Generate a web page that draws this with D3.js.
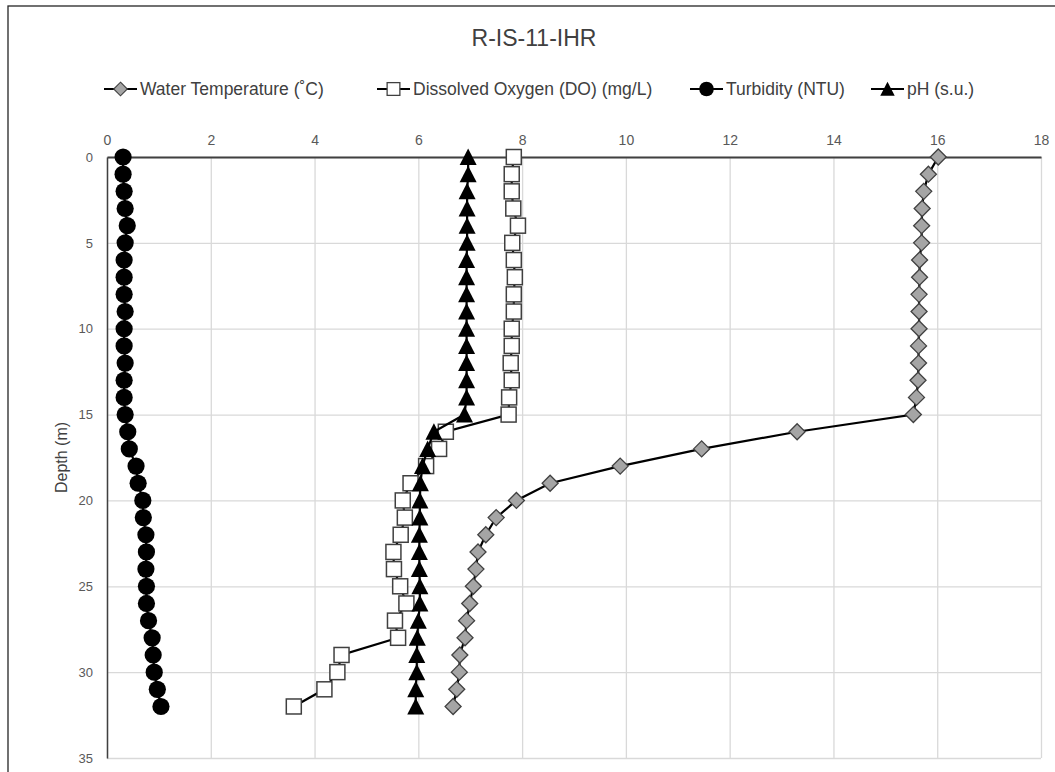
<!DOCTYPE html>
<html lang="en">
<head>
<meta charset="UTF-8">
<title>R-IS-11-IHR</title>
<script src="https://d3js.org/d3.v7.min.js"></script>
<style>
  body { margin: 0; background: #fff; }
  svg { font-family: "Liberation Sans", Arial, sans-serif; }
  .grid line { stroke: #d9d9d9; stroke-width: 1.3; }
  .grid path { display: none; }
  .tick text { fill: #595959; }
</style>
</head>
<body>
<svg id="chart" width="1055" height="772"></svg>
<script>
// depth of each reading (m)
const depths = [0, 1, 2, 3, 4, 5, 6, 7, 8, 9, 10, 11, 12, 13, 14, 15, 16,
  17, 18, 19, 20, 21, 22, 23, 24, 25, 26, 27, 28, 29, 30, 31, 32];

const waterTemp = [16.02, 15.83, 15.74, 15.71, 15.70, 15.70, 15.66, 15.66, 15.65, 15.65, 15.65,
  15.64, 15.64, 15.63, 15.60, 15.54, 13.30, 11.46, 9.89, 8.54, 7.89, 7.50, 7.30, 7.15,
  7.11, 7.06, 6.99, 6.93, 6.90, 6.80, 6.79, 6.74, 6.67];

const dissolvedOxygen = [7.84, 7.80, 7.80, 7.83, 7.92, 7.81, 7.84, 7.86, 7.84, 7.84, 7.80,
  7.80, 7.78, 7.80, 7.75, 7.74, 6.53, 6.40, 6.15, 5.85, 5.70, 5.74, 5.66, 5.52,
  5.53, 5.65, 5.77, 5.55, 5.61, 4.52, 4.44, 4.19, 3.60];

const turbidity = [0.31, 0.31, 0.33, 0.35, 0.39, 0.35, 0.33, 0.33, 0.33, 0.35, 0.33,
  0.33, 0.35, 0.33, 0.33, 0.35, 0.40, 0.43, 0.56, 0.60, 0.69, 0.70, 0.75, 0.76,
  0.75, 0.76, 0.76, 0.80, 0.87, 0.89, 0.91, 0.97, 1.04];

const pH = [6.96, 6.96, 6.94, 6.94, 6.94, 6.94, 6.93, 6.93, 6.93, 6.93, 6.93,
  6.93, 6.93, 6.93, 6.93, 6.89, 6.30, 6.18, 6.08, 6.04, 6.03, 6.03, 6.02, 6.02,
  6.02, 6.03, 6.03, 6.00, 5.98, 5.97, 5.97, 5.95, 5.95];

const xTicks = [0, 2, 4, 6, 8, 10, 12, 14, 16, 18];
const yTicks = [0, 5, 10, 15, 20, 25, 30, 35];

const seriesNames = ["Water Temperature (\u02DAC)", "Dissolved Oxygen (DO) (mg/L)", "Turbidity (NTU)", "pH (s.u.)"];

const series = [
  { name: seriesNames[0], values: waterTemp, marker: "diamond" },
  { name: seriesNames[1], values: dissolvedOxygen, marker: "square" },
  { name: seriesNames[2], values: turbidity, marker: "circle" },
  { name: seriesNames[3], values: pH, marker: "triangle" }
];

const svg = d3.select("#chart");
const margin = { left: 107, top: 157 };
const width = 934, height = 601;

// outer chart frame
svg.append("rect")
  .attr("x", 8).attr("y", 6)
  .attr("width", 1100).attr("height", 800)
  .attr("fill", "#fff")
  .attr("stroke", "#262626")
  .attr("stroke-width", 1.3);

svg.append("text")
  .attr("x", 534).attr("y", 46)
  .attr("text-anchor", "middle")
  .attr("font-size", 23)
  .attr("fill", "#404040")
  .text("R-IS-11-IHR");

const x = d3.scaleLinear().domain([0, 18]).range([0, width]);
const y = d3.scaleLinear().domain([0, 35]).range([0, height]);

const g = svg.append("g").attr("transform", `translate(${margin.left},${margin.top})`);

// gridlines
g.append("g").attr("class", "grid")
  .call(d3.axisTop(x).tickValues(xTicks).tickSize(-height).tickFormat(""));
g.append("g").attr("class", "grid")
  .call(d3.axisLeft(y).tickValues(yTicks).tickSize(-width).tickFormat(""));

// axes
const xAxis = g.append("g")
  .call(d3.axisTop(x).tickValues(xTicks).tickSize(0).tickPadding(12));
xAxis.select(".domain").attr("stroke", "#404040").attr("stroke-width", 1.8);
xAxis.selectAll(".tick text").attr("font-size", 14);

const yAxis = g.append("g")
  .call(d3.axisLeft(y).tickValues(yTicks).tickSize(0).tickPadding(14));
yAxis.select(".domain").attr("stroke", "#404040").attr("stroke-width", 1.5);
yAxis.selectAll(".tick text").attr("font-size", 13);

svg.append("text")
  .attr("transform", `translate(67,${margin.top + height / 2}) rotate(-90)`)
  .attr("text-anchor", "middle")
  .attr("font-size", 16)
  .attr("fill", "#404040")
  .text("Depth (m)");

// marker drawing
function drawMarker(sel, type) {
  if (type === "diamond") {
    sel.append("path").attr("d", "M0,-8L8,0L0,8L-8,0Z")
      .attr("fill", "#a5a5a5").attr("stroke", "#404040").attr("stroke-width", 1.3);
  } else if (type === "square") {
    sel.append("rect").attr("x", -7.5).attr("y", -7.5).attr("width", 15).attr("height", 15)
      .attr("fill", "#fff").attr("stroke", "#404040").attr("stroke-width", 1.5);
  } else if (type === "circle") {
    sel.append("circle").attr("r", 8.6).attr("fill", "#000");
  } else {
    sel.append("path").attr("d", "M0,-8.5L8.5,8L-8.5,8Z").attr("fill", "#000");
  }
}

const line = d3.line()
  .x(d => x(d[0]))
  .y(d => y(d[1]));

series.forEach(s => {
  const pts = s.values.map((v, i) => [v, depths[i]]);
  g.append("path")
    .datum(pts)
    .attr("fill", "none")
    .attr("stroke", "#000")
    .attr("stroke-width", 2.2)
    .attr("d", line);
  g.append("g").selectAll("g")
    .data(pts)
    .join("g")
    .attr("transform", d => `translate(${x(d[0])},${y(d[1])})`)
    .each(function () { drawMarker(d3.select(this), s.marker); });
});

// legend
const legendX = [104, 377, 690, 871];
const legend = svg.append("g").attr("transform", "translate(0,89)");
series.forEach((s, i) => {
  const item = legend.append("g").attr("transform", `translate(${legendX[i]},0)`);
  item.append("line").attr("x1", 0).attr("x2", 33)
    .attr("stroke", "#000").attr("stroke-width", 2.2);
  const m = item.append("g").attr("transform", "translate(16.5,0) scale(0.85)");
  drawMarker(m, s.marker);
  item.append("text")
    .attr("x", 36).attr("y", 6)
    .attr("font-size", 17.5)
    .attr("fill", "#404040")
    .text(s.name);
});
</script>
</body>
</html>
